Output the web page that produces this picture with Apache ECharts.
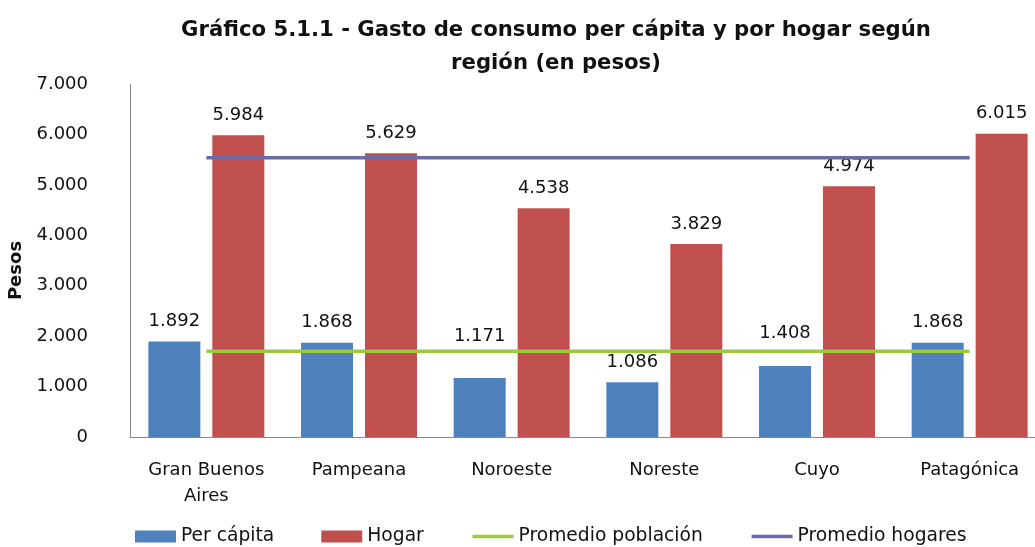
<!DOCTYPE html>
<html>
<head>
<meta charset="utf-8">
<script src="https://cdn.jsdelivr.net/npm/echarts@6/dist/echarts.min.js"></script>
<style>
  html, body { margin: 0; padding: 0; background: #fff; }
  #chart { width: 1035px; height: 547px; }
</style>
</head>
<body>
<div id="chart"></div>
<script>
var regiones = ['Gran Buenos\nAires', 'Pampeana', 'Noroeste', 'Noreste', 'Cuyo', 'Patagónica'];
var perCapita = [1892, 1868, 1171, 1086, 1408, 1868];
var hogar = [5984, 5629, 4538, 3829, 4974, 6015];
var promedioPoblacion = [1700, 1700, 1700, 1700, 1700, 1700];
var promedioHogares = [5540, 5540, 5540, 5540, 5540, 5540];
var yTicks = [0, 1000, 2000, 3000, 4000, 5000, 6000, 7000];

var FONT = 'DejaVu Sans';

function miles(v) {
	return String(v).replace(/\B(?=(\d{3})+(?!\d))/g, '.');
}

// algunas etiquetas estan corridas hacia arriba para no tapar la linea verde
var subirEtiqueta = { 2: 33, 4: 24 };
var perCapitaData = perCapita.map(function (v, i) {
	if (subirEtiqueta[i] != null) {
		return { value: v, label: { distance: subirEtiqueta[i] } };
	}
	return v;
});

var myChart = echarts.init(document.getElementById('chart'));

myChart.setOption({
	backgroundColor: '#fff',
	animation: false,
	title: {
		text: 'Gráfico 5.1.1 - Gasto de consumo per cápita y por hogar según\nregión (en pesos)',
		left: 551,
		top: 9,
		textAlign: 'center',
		textStyle: {
			fontFamily: FONT,
			fontSize: 21.2,
			fontWeight: 'bold',
			color: '#111',
			lineHeight: 33
		}
	},
	legend: {
		left: 135,
		top: 527,
		padding: 0,
		itemWidth: 41,
		itemHeight: 12,
		itemGap: 47,
		textStyle: { fontFamily: FONT, fontSize: 18.7, color: '#111' },
		data: [
			{ name: 'Per cápita', icon: 'rect' },
			{ name: 'Hogar', icon: 'rect' },
			{ name: 'Promedio población', itemStyle: { opacity: 0 }, lineStyle: { width: 3.5 } },
			{ name: 'Promedio hogares', itemStyle: { opacity: 0 }, lineStyle: { width: 3.5 } }
		]
	},
	grid: {
		left: 130,
		top: 84,
		width: 916,
		height: 353,
		containLabel: false,
		outerBoundsMode: 'none'
	},
	xAxis: {
		type: 'category',
		data: regiones,
		boundaryGap: true,
		axisLine: { show: true, lineStyle: { color: '#888', width: 1 } },
		axisTick: { show: false },
		axisLabel: {
			interval: 0,
			margin: 20,
			fontFamily: FONT,
			fontSize: 18,
			lineHeight: 26,
			color: '#111'
		},
		splitLine: { show: false }
	},
	yAxis: {
		type: 'value',
		min: yTicks[0],
		max: yTicks[yTicks.length - 1],
		interval: 1000,
		name: 'Pesos',
		nameLocation: 'middle',
		nameGap: 101,
		nameTextStyle: {
			fontFamily: FONT,
			fontSize: 18,
			fontWeight: 'bold',
			color: '#111',
			padding: [0, 20, 0, 0]
		},
		axisLine: { show: true, lineStyle: { color: '#888', width: 1 } },
		axisTick: { show: false },
		axisLabel: {
			margin: 42,
			fontFamily: FONT,
			fontSize: 18,
			color: '#111',
			formatter: function (v) { return miles(v); }
		},
		splitLine: { show: false }
	},
	series: [
		{
			name: 'Per cápita',
			type: 'bar',
			data: perCapitaData,
			barWidth: 52,
			barGap: '23%',
			itemStyle: { color: '#4F81BD' },
			label: {
				show: true,
				position: 'top',
				distance: 11,
				fontFamily: FONT,
				fontSize: 18,
				color: '#111',
				formatter: function (p) { return miles(p.value); }
			},
			z: 2
		},
		{
			name: 'Hogar',
			type: 'bar',
			data: hogar,
			barWidth: 52,
			barGap: '23%',
			itemStyle: { color: '#C0504D' },
			label: {
				show: true,
				position: 'top',
				distance: 11,
				fontFamily: FONT,
				fontSize: 18,
				color: '#111',
				formatter: function (p) { return miles(p.value); }
			},
			z: 2
		},
		{
			name: 'Promedio población',
			type: 'line',
			data: promedioPoblacion,
			symbol: 'none',
			itemStyle: { color: '#9ACA3C' },
			lineStyle: { color: '#9ACA3C', width: 3.5 },
			z: 5
		},
		{
			name: 'Promedio hogares',
			type: 'line',
			data: promedioHogares,
			symbol: 'none',
			itemStyle: { color: '#6B6BA3' },
			lineStyle: { color: '#6B6BA3', width: 3.5 },
			z: 5
		}
	]
});
</script>
</body>
</html>
